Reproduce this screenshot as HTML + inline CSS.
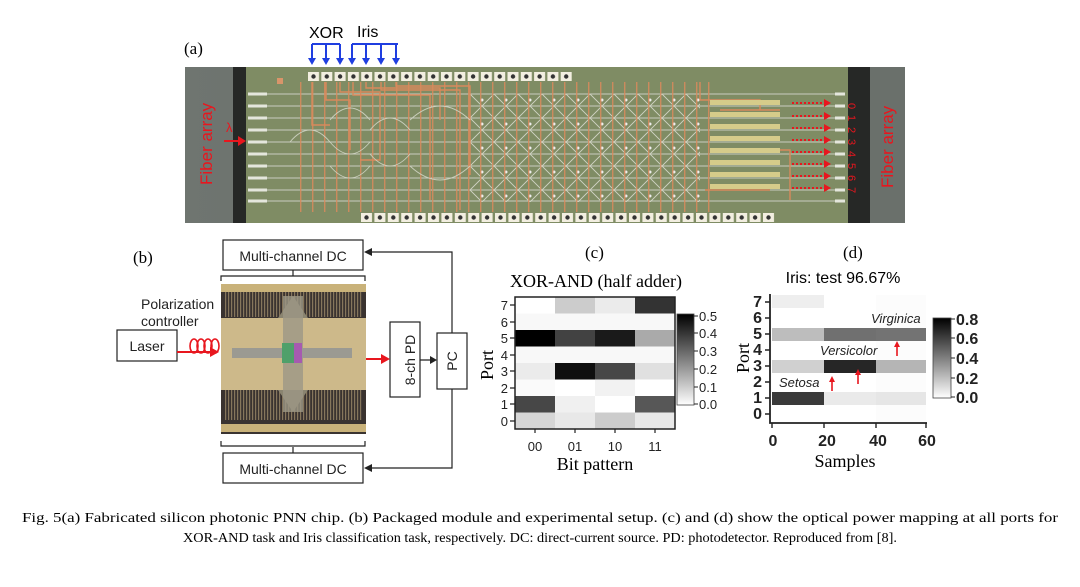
<!DOCTYPE html>
<html><head><meta charset="utf-8"><style>html,body{margin:0;padding:0;background:#fff}svg{display:block}</style></head><body>
<svg width="1080" height="587" viewBox="0 0 1080 587" xmlns="http://www.w3.org/2000/svg" font-family="Liberation Sans, sans-serif">
<defs>
<pattern id="tpad" x="308" y="72" width="13.3" height="10" patternUnits="userSpaceOnUse"><rect x="0" y="0" width="11" height="9" fill="#f2eee0"/><circle cx="5.5" cy="4.5" r="2.2" fill="#333"/></pattern>
<pattern id="bpad" x="361" y="213" width="13.4" height="10" patternUnits="userSpaceOnUse"><rect x="0" y="0" width="11" height="9" fill="#f2eee0"/><circle cx="5.5" cy="4.5" r="2.2" fill="#333"/></pattern>
<pattern id="vtr" x="0" y="0" width="12" height="10" patternUnits="userSpaceOnUse"><rect x="0" y="0" width="1.4" height="10" fill="#d98a5c"/></pattern>
<pattern id="mesh" x="470" y="94" width="24" height="24" patternUnits="userSpaceOnUse"><path d="M0 0L24 24M24 0L0 24" stroke="#d0d4c4" stroke-width="0.9"/><circle cx="12" cy="6" r="1.5" fill="#eee"/></pattern>
<pattern id="wires" x="0" y="0" width="3" height="10" patternUnits="userSpaceOnUse"><rect x="0" y="0" width="1.2" height="10" fill="#b8a27a"/></pattern>
<linearGradient id="cb" x1="0" y1="0" x2="0" y2="1"><stop offset="0" stop-color="#000"/><stop offset="1" stop-color="#fff"/></linearGradient>
<linearGradient id="fib" x1="0" y1="0" x2="1" y2="0"><stop offset="0" stop-color="#6f7570"/><stop offset="1" stop-color="#5f6660"/></linearGradient>
</defs>

<!-- (a) -->
<text x="184" y="54" font-family="Liberation Serif, serif" font-size="17">(a)</text>
<text x="309" y="38" font-size="16">XOR</text>
<text x="357" y="37" font-size="16">Iris</text>
<g stroke="#1f3ee0" stroke-width="2" fill="none">
<path d="M312 44H340"/><path d="M312 44V60M326 44V60M340 44V60"/>
<path d="M352 44H398"/><path d="M352 44V60M366 44V60M381 44V60M396 44V60"/>
</g>
<g fill="#1f3ee0">
<path d="M308 58h8l-4 7z"/><path d="M322 58h8l-4 7z"/><path d="M336 58h8l-4 7z"/>
<path d="M348 58h8l-4 7z"/><path d="M362 58h8l-4 7z"/><path d="M377 58h8l-4 7z"/><path d="M392 58h8l-4 7z"/>
</g>
<rect x="185" y="67" width="720" height="156" fill="url(#fib)"/>
<rect x="233" y="67" width="13" height="156" fill="#262826"/>
<rect x="246" y="67" width="602" height="156" fill="#7f8c64"/>
<rect x="848" y="67" width="22" height="156" fill="#262826"/>
<rect x="870" y="67" width="35" height="156" fill="#6a706b"/>
<rect x="277" y="78" width="6" height="6" fill="#d9956a"/>
<g stroke="#c9cdc0" stroke-width="1">
<path d="M248 94H840M248 106H840M248 118H840M248 130H840M248 142H840M248 154H840M248 166H840M248 178H840M248 190H840M248 201H840"/>
</g>
<g stroke="#e4e6dc" stroke-width="3">
<path d="M248 94h19M248 106h19M248 118h19M248 130h19M248 142h19M248 154h19M248 166h19M248 178h19M248 190h19M248 201h19"/>
<path d="M835 94h10M835 106h10M835 118h10M835 130h10M835 142h10M835 154h10M835 166h10M835 178h10M835 190h10M835 201h10"/>
</g>
<rect x="470" y="94" width="230" height="108" fill="url(#mesh)"/>
<rect x="300" y="82" width="410" height="130" fill="url(#vtr)" opacity="0.85"/>
<g stroke="#d98a5c" stroke-width="1.4" fill="none">
<path d="M312 82V125H330M326 82V100H350V150M340 82V92H380V160H360M353 82V95H430V200M366 82V88H440V120M381 82V90H460V210M396 82V86H470V175"/>
<path d="M700 82V100H760V110M710 150H790V200M720 110H780M705 190H770"/>
</g>
<g stroke="#d0d4c4" stroke-width="0.9" fill="none" opacity="0.9">
<path d="M290 142q10-12 20-12q10 0 20 12q10 12 20 12q10 0 20-12M330 120q10-12 20-12t20 12M330 166q10 12 20 12t20-12M370 130q10-12 20-12t20 12M370 154q10 12 20 12t20-12M410 120q15-14 30-14t30 14M410 166q15 14 30 14t30-14"/>
</g>
<g fill="#d6cc8a"><rect x="710" y="100" width="70" height="5"/><rect x="710" y="112" width="70" height="5"/><rect x="710" y="124" width="70" height="5"/><rect x="710" y="136" width="70" height="5"/><rect x="710" y="148" width="70" height="5"/><rect x="710" y="160" width="70" height="5"/><rect x="710" y="172" width="70" height="5"/><rect x="710" y="184" width="70" height="5"/></g>
<rect x="306" y="72" width="266" height="10" fill="url(#tpad)"/>
<rect x="359" y="213" width="416" height="10" fill="url(#bpad)"/>
<g stroke="#e8161e" stroke-width="2" fill="none" stroke-dasharray="2 2">
<path d="M792 103h32M792 116h32M792 128h32M792 140h32M792 152h32M792 164h32M792 176h32M792 188h32"/>
</g>
<g fill="#e8161e"><path d="M824 99l7 4l-7 4zM824 112l7 4l-7 4zM824 124l7 4l-7 4zM824 136l7 4l-7 4zM824 148l7 4l-7 4zM824 160l7 4l-7 4zM824 172l7 4l-7 4zM824 184l7 4l-7 4z"/></g>
<g font-size="11" fill="#e8161e">
<text x="848" y="103" transform="rotate(90 848 103)">0</text><text x="848" y="115" transform="rotate(90 848 115)">1</text><text x="848" y="127" transform="rotate(90 848 127)">2</text><text x="848" y="139" transform="rotate(90 848 139)">3</text><text x="848" y="151" transform="rotate(90 848 151)">4</text><text x="848" y="163" transform="rotate(90 848 163)">5</text><text x="848" y="175" transform="rotate(90 848 175)">6</text><text x="848" y="187" transform="rotate(90 848 187)">7</text>
</g>
<text x="212" y="185" font-size="17" fill="#e8161e" transform="rotate(-90 212 185)">Fiber array</text>
<text x="893" y="188" font-size="17" fill="#e8161e" transform="rotate(-90 893 188)">Fiber array</text>
<text x="226" y="132" font-size="13" fill="#e8161e">λ</text>
<path d="M224 141h16" stroke="#e8161e" stroke-width="2"/><path d="M238 136l8 5l-8 5z" fill="#e8161e"/>

<!-- (b) -->
<text x="133" y="263" font-family="Liberation Serif, serif" font-size="17">(b)</text>
<g fill="#fff" stroke="#222" stroke-width="1.2">
<rect x="223" y="240" width="140" height="30"/>
<rect x="223" y="453" width="140" height="30"/>
<rect x="117" y="330" width="60" height="31"/>
<rect x="390" y="322" width="30" height="75"/>
<rect x="437" y="333" width="30" height="56"/>
</g>
<g font-size="14" fill="#222">
<text x="293" y="261" text-anchor="middle">Multi-channel  DC</text>
<text x="293" y="474" text-anchor="middle">Multi-channel  DC</text>
<text x="147" y="351" text-anchor="middle">Laser</text>
<text x="410" y="360" text-anchor="middle" transform="rotate(-90 410 360)" dy="5">8-ch PD</text>
<text x="452" y="361" text-anchor="middle" transform="rotate(-90 452 361)" dy="5">PC</text>
<text x="141" y="309">Polarization</text>
<text x="141" y="326">controller</text>
</g>
<g stroke="#222" stroke-width="1.2" fill="none">
<path d="M293 270V276M221 281V276H365V281M293 453V447M221 441V446H365V441"/>
<path d="M420 360H433M452 333V252H369M452 389V468H369"/>
</g>
<g fill="#222"><path d="M430 356l7 4l-7 4zM372 248l-8 4l8 4zM372 464l-8 4l8 4z"/></g>
<rect x="221" y="284" width="145" height="150" fill="#3a3330"/>
<rect x="221" y="284" width="145" height="8" fill="#c9b27a"/>
<rect x="225" y="292" width="137" height="25" fill="url(#wires)" opacity="0.6"/>
<rect x="225" y="390" width="137" height="30" fill="url(#wires)" opacity="0.6"/>
<rect x="221" y="424" width="145" height="8" fill="#c9b27a"/>
<path d="M278 318l15-22l15 22zM278 390l15 22l15-22z" fill="#8a8470"/>
<rect x="221" y="318" width="145" height="72" fill="#cdb98a"/>
<rect x="283" y="296" width="20" height="116" fill="#9c9786" opacity="0.8"/>
<rect x="232" y="348" width="120" height="10" fill="#9b9a92"/>
<rect x="282" y="343" width="20" height="20" fill="#4fa06a"/><rect x="294" y="343" width="8" height="20" fill="#a65ab0"/>
<path d="M177 352H212" stroke="#e8161e" stroke-width="2"/><path d="M210 347l9 5l-9 5z" fill="#e8161e"/>
<path d="M366 359H382" stroke="#e8161e" stroke-width="2"/><path d="M381 354l9 5l-9 5z" fill="#e8161e"/>
<g stroke="#e8161e" stroke-width="1.6" fill="none"><ellipse cx="194" cy="346" rx="4" ry="7"/><ellipse cx="201" cy="346" rx="4" ry="7"/><ellipse cx="208" cy="346" rx="4" ry="7"/><ellipse cx="215" cy="346" rx="4" ry="7"/></g>

<!-- (c) -->
<text x="585" y="258" font-family="Liberation Serif, serif" font-size="17">(c)</text>
<text x="596" y="287" text-anchor="middle" font-family="Liberation Serif, serif" font-size="18">XOR-AND (half adder)</text>
<g>
<rect x="515" y="297" width="40" height="17" fill="#fff"/><rect x="555" y="297" width="40" height="17" fill="#ccc"/><rect x="595" y="297" width="40" height="17" fill="#ebebeb"/><rect x="635" y="297" width="40" height="17" fill="#333"/>
<rect x="515" y="313.5" width="160" height="17" fill="#f8f8f8"/>
<rect x="515" y="330" width="40" height="17" fill="#000"/><rect x="555" y="330" width="40" height="17" fill="#424242"/><rect x="595" y="330" width="40" height="17" fill="#1a1a1a"/><rect x="635" y="330" width="40" height="17" fill="#aaa"/>
<rect x="515" y="346.5" width="160" height="17" fill="#f8f8f8"/>
<rect x="515" y="363" width="40" height="17" fill="#ebebeb"/><rect x="555" y="363" width="40" height="17" fill="#0f0f0f"/><rect x="595" y="363" width="40" height="17" fill="#474747"/><rect x="635" y="363" width="40" height="17" fill="#e0e0e0"/>
<rect x="515" y="379.5" width="40" height="17" fill="#fafafa"/><rect x="555" y="379.5" width="40" height="17" fill="#fff"/><rect x="595" y="379.5" width="40" height="17" fill="#f2f2f2"/><rect x="635" y="379.5" width="40" height="17" fill="#fff"/>
<rect x="515" y="396" width="40" height="17" fill="#474747"/><rect x="555" y="396" width="40" height="17" fill="#f0f0f0"/><rect x="595" y="396" width="40" height="17" fill="#fff"/><rect x="635" y="396" width="40" height="17" fill="#575757"/>
<rect x="515" y="412.5" width="40" height="16.5" fill="#d6d6d6"/><rect x="555" y="412.5" width="40" height="16.5" fill="#e8e8e8"/><rect x="595" y="412.5" width="40" height="16.5" fill="#ccc"/><rect x="635" y="412.5" width="40" height="16.5" fill="#e8e8e8"/>
</g>
<rect x="515" y="297" width="160" height="132" fill="none" stroke="#222" stroke-width="1.5"/>
<g stroke="#222" stroke-width="1.2"><path d="M510 305h5M510 322h5M510 338h5M510 355h5M510 371h5M510 388h5M510 404h5M510 421h5M535 429v4M575 429v4M615 429v4M655 429v4"/></g>
<g font-size="13" fill="#222" text-anchor="end"><text x="508" y="310">7</text><text x="508" y="327">6</text><text x="508" y="343">5</text><text x="508" y="360">4</text><text x="508" y="376">3</text><text x="508" y="393">2</text><text x="508" y="409">1</text><text x="508" y="426">0</text></g>
<g font-size="13" fill="#222" text-anchor="middle"><text x="535" y="451">00</text><text x="575" y="451">01</text><text x="615" y="451">10</text><text x="655" y="451">11</text></g>
<text x="595" y="470" text-anchor="middle" font-family="Liberation Serif, serif" font-size="18">Bit pattern</text>
<text x="493" y="365" text-anchor="middle" font-family="Liberation Serif, serif" font-size="18" transform="rotate(-90 493 365)">Port</text>
<rect x="677" y="314" width="17" height="91" fill="url(#cb)" stroke="#444" stroke-width="0.8"/>
<g stroke="#222"><path d="M694 316h4M694 333h4M694 351h4M694 369h4M694 387h4M694 404h4"/></g>
<g font-size="13" fill="#222"><text x="699" y="321">0.5</text><text x="699" y="338">0.4</text><text x="699" y="356">0.3</text><text x="699" y="374">0.2</text><text x="699" y="392">0.1</text><text x="699" y="409">0.0</text></g>

<!-- (d) -->
<text x="843" y="258" font-family="Liberation Serif, serif" font-size="17">(d)</text>
<text x="843" y="283" text-anchor="middle" font-size="16">Iris: test 96.67%</text>
<rect x="770" y="294" width="157" height="129" fill="#fff"/>
<rect x="772" y="295" width="52" height="13" fill="#eee"/>
<rect x="772" y="328" width="52" height="13" fill="#bdbdbd"/><rect x="824" y="328" width="52" height="13" fill="#707070"/><rect x="876" y="328" width="50" height="13" fill="#3c3c3c"/>
<rect x="772" y="360" width="52" height="13" fill="#d0d0d0"/><rect x="824" y="360" width="52" height="13" fill="#262626"/><rect x="876" y="360" width="50" height="13" fill="#9a9a9a"/>
<rect x="772" y="392" width="52" height="13" fill="#3a3a3a"/><rect x="824" y="392" width="52" height="13" fill="#eaeaea"/><rect x="876" y="392" width="50" height="13" fill="#e0e0e0"/>
<rect x="876" y="295" width="50" height="127" fill="#f6f6f6" opacity="0.3"/>
<path d="M770 294V423H927" fill="none" stroke="#222" stroke-width="1.8"/>
<g stroke="#222" stroke-width="1.4"><path d="M765 302h5M765 318h5M765 334h5M765 350h5M765 366h5M765 382h5M765 398h5M765 414h5M772 423v5M824 423v5M876 423v5M926 423v5"/></g>
<g font-size="16" font-weight="bold" fill="#222" text-anchor="end"><text x="762" y="307">7</text><text x="762" y="323">6</text><text x="762" y="339">5</text><text x="762" y="355">4</text><text x="762" y="371">3</text><text x="762" y="387">2</text><text x="762" y="403">1</text><text x="762" y="419">0</text></g>
<g font-size="16" font-weight="bold" fill="#222" text-anchor="middle"><text x="773" y="446">0</text><text x="827" y="446">20</text><text x="878" y="446">40</text><text x="927" y="446">60</text></g>
<text x="845" y="467" text-anchor="middle" font-family="Liberation Serif, serif" font-size="18">Samples</text>
<text x="749" y="358" text-anchor="middle" font-family="Liberation Serif, serif" font-size="18" transform="rotate(-90 749 358)">Port</text>
<g font-size="13" font-style="italic" fill="#222"><text x="871" y="323">Virginica</text><text x="820" y="355">Versicolor</text><text x="779" y="387">Setosa</text></g>
<g stroke="#e8161e" stroke-width="1.6"><path d="M897 356v-10M858 384v-10M832 391v-10"/></g>
<g fill="#e8161e"><path d="M894 347l3-6l3 6zM855 375l3-6l3 6zM829 382l3-6l3 6z"/></g>
<rect x="933" y="318" width="18" height="80" fill="url(#cb)" stroke="#444" stroke-width="0.8"/>
<g stroke="#222"><path d="M951 319h4M951 338h4M951 358h4M951 378h4M951 397h4"/></g>
<g font-size="16" font-weight="bold" fill="#222"><text x="956" y="325">0.8</text><text x="956" y="344">0.6</text><text x="956" y="364">0.4</text><text x="956" y="384">0.2</text><text x="956" y="403">0.0</text></g>

<text x="22" y="522" font-family="Liberation Serif, serif" font-size="14" textLength="1036" lengthAdjust="spacingAndGlyphs">Fig. 5(a) Fabricated silicon photonic PNN chip. (b) Packaged module and experimental setup. (c) and (d) show the optical power mapping at all ports for</text>
<text x="183" y="542" font-family="Liberation Serif, serif" font-size="14" textLength="714" lengthAdjust="spacingAndGlyphs">XOR-AND task and Iris classification task, respectively. DC: direct-current source. PD: photodetector. Reproduced from [8].</text>
</svg>
</body></html>
